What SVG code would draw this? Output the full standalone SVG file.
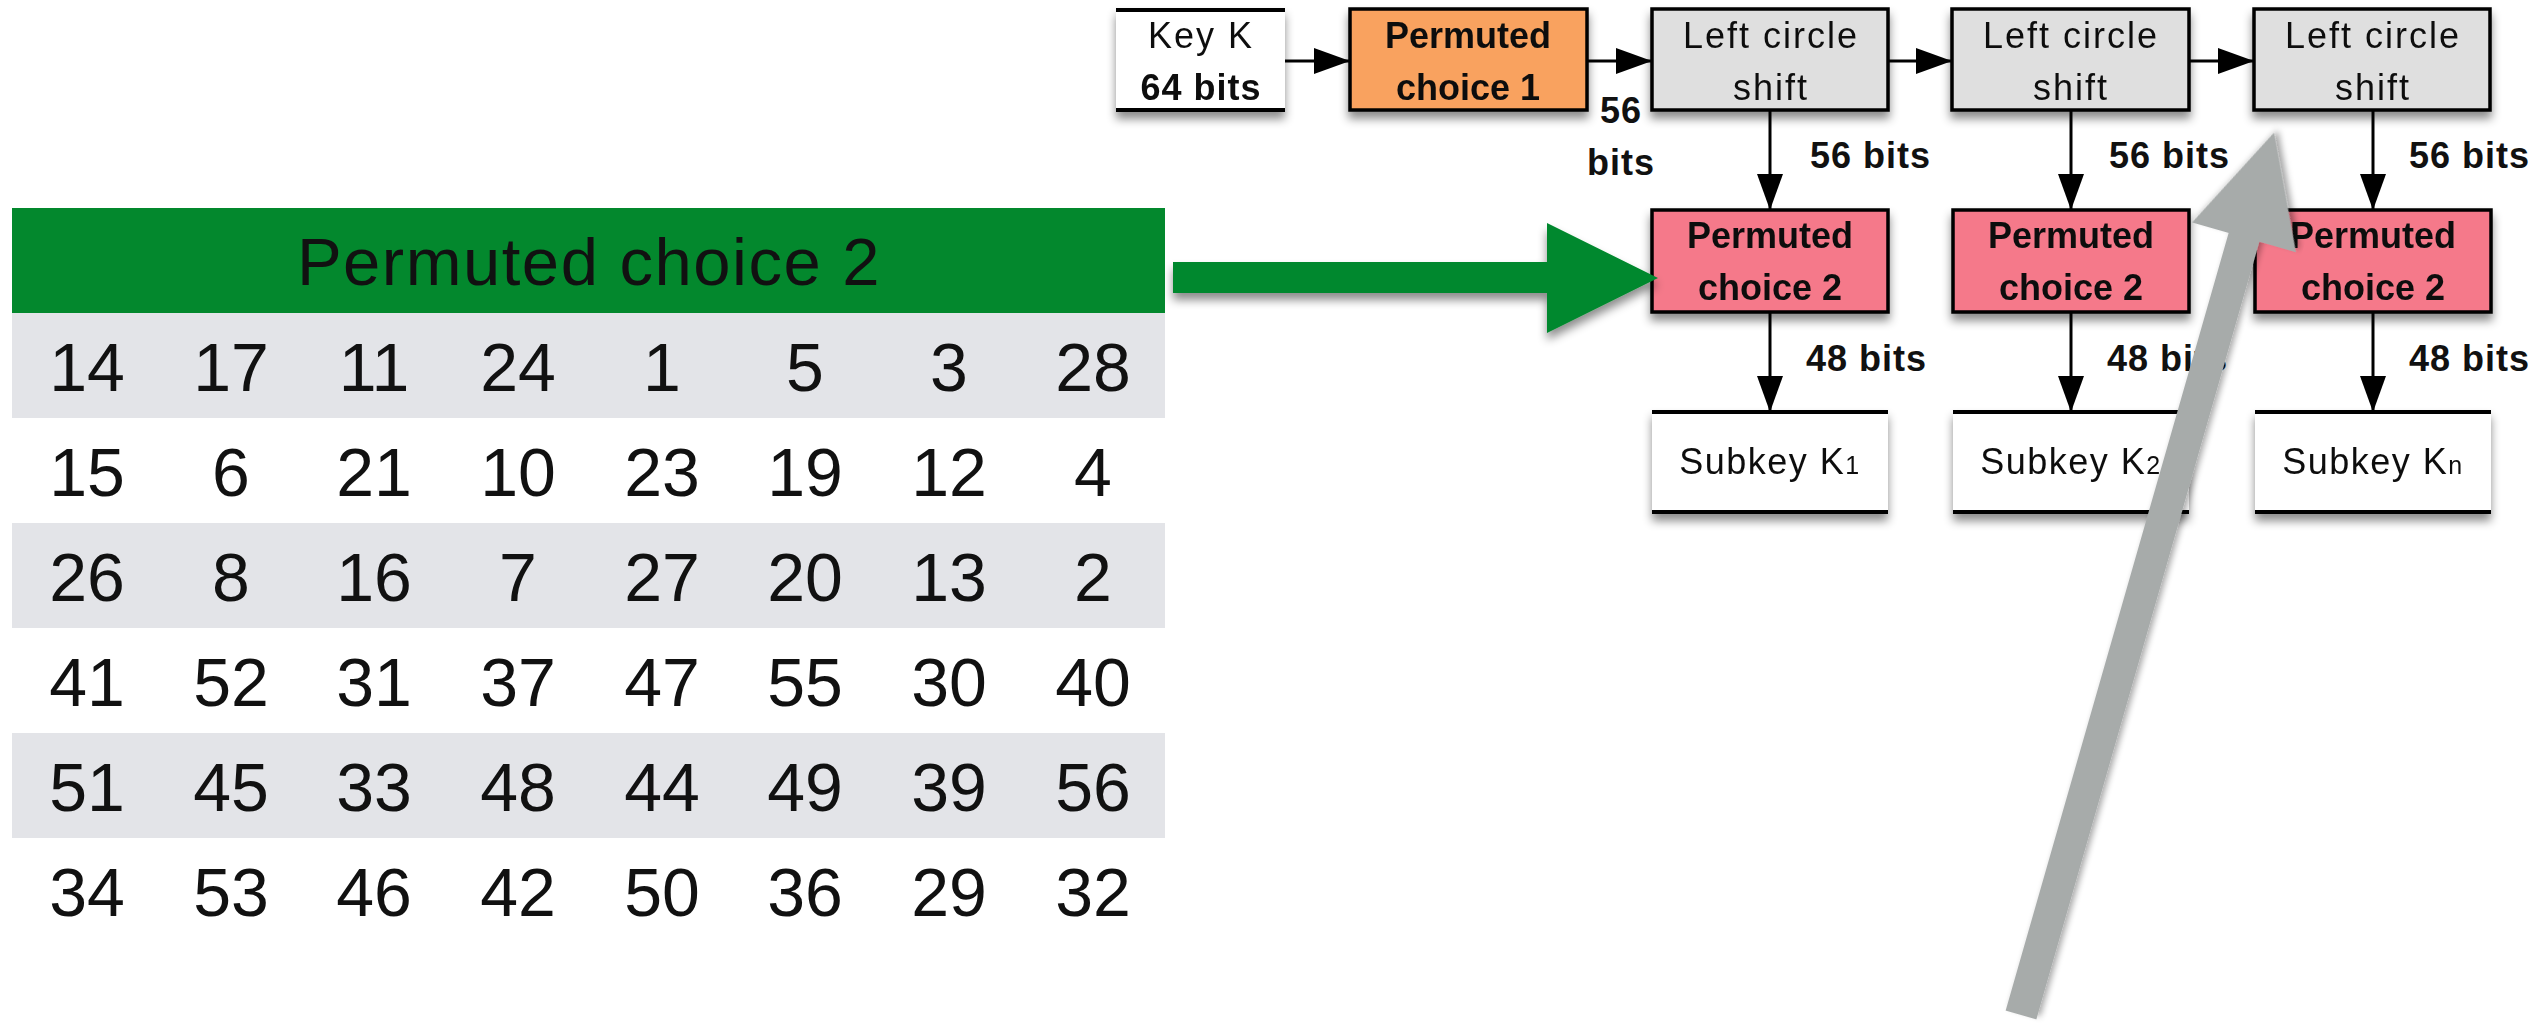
<svg xmlns="http://www.w3.org/2000/svg" width="2539" height="1025" viewBox="0 0 2539 1025">
  <style>
    text { font-family: "Liberation Sans", Arial, sans-serif; fill: #111; }
    .reg { font-size: 36px; letter-spacing: 2px; text-anchor: middle; }
    .bold { font-size: 36px; font-weight: bold; text-anchor: middle; }
    .bits { font-size: 36px; font-weight: bold; letter-spacing: 1px; }
    .sub { font-size: 36px; letter-spacing: 1.5px; text-anchor: middle; }
    .box { stroke: #000; stroke-width: 3.5; }
    .pc1 { fill: #F9A25E; }
    .pc2 { fill: #F5798A; }
    .lcs { fill: #DFDFDF; }
    .rule { stroke: #000; stroke-width: 4; }
    .wire { stroke: #000; stroke-width: 3; fill: none; marker-end: url(#head); }
    .hdr { font-size: 67px; letter-spacing: 1.5px; text-anchor: middle; }
    .num { font-size: 68px; text-anchor: middle; }
    .band { fill: #E3E4E8; }
  </style>
  <defs>
    <marker id="head" markerUnits="userSpaceOnUse" markerWidth="36" markerHeight="26" refX="36" refY="13" orient="auto">
      <path d="M0,0 L36,13 L0,26 Z" fill="#000"/>
    </marker>
    <filter id="shadow" x="-10%" y="-20%" width="120%" height="160%">
      <feDropShadow dx="0" dy="7" stdDeviation="5" flood-color="#000" flood-opacity="0.45"/>
    </filter>
    <filter id="soft" x="-20%" y="-5%" width="140%" height="110%">
      <feDropShadow dx="4" dy="3" stdDeviation="3" flood-color="#000" flood-opacity="0.35"/>
    </filter>
  </defs>

  <!-- Permuted choice 2 table -->
  <g id="pc2-table">
    <rect x="12" y="208" width="1153" height="105" fill="#03882D"/>
    <text class="hdr" x="589" y="285">Permuted choice 2</text>
    <rect class="band" x="12" y="313" width="1153" height="105"/>
    <rect class="band" x="12" y="523" width="1153" height="105"/>
    <rect class="band" x="12" y="733" width="1153" height="105"/>
    <text class="num" y="391"><tspan x="87">14</tspan><tspan x="231">17</tspan><tspan x="374">11</tspan><tspan x="518">24</tspan><tspan x="662">1</tspan><tspan x="805">5</tspan><tspan x="949">3</tspan><tspan x="1093">28</tspan></text>
    <text class="num" y="496"><tspan x="87">15</tspan><tspan x="231">6</tspan><tspan x="374">21</tspan><tspan x="518">10</tspan><tspan x="662">23</tspan><tspan x="805">19</tspan><tspan x="949">12</tspan><tspan x="1093">4</tspan></text>
    <text class="num" y="601"><tspan x="87">26</tspan><tspan x="231">8</tspan><tspan x="374">16</tspan><tspan x="518">7</tspan><tspan x="662">27</tspan><tspan x="805">20</tspan><tspan x="949">13</tspan><tspan x="1093">2</tspan></text>
    <text class="num" y="706"><tspan x="87">41</tspan><tspan x="231">52</tspan><tspan x="374">31</tspan><tspan x="518">37</tspan><tspan x="662">47</tspan><tspan x="805">55</tspan><tspan x="949">30</tspan><tspan x="1093">40</tspan></text>
    <text class="num" y="811"><tspan x="87">51</tspan><tspan x="231">45</tspan><tspan x="374">33</tspan><tspan x="518">48</tspan><tspan x="662">44</tspan><tspan x="805">49</tspan><tspan x="949">39</tspan><tspan x="1093">56</tspan></text>
    <text class="num" y="916"><tspan x="87">34</tspan><tspan x="231">53</tspan><tspan x="374">46</tspan><tspan x="518">42</tspan><tspan x="662">50</tspan><tspan x="805">36</tspan><tspan x="949">29</tspan><tspan x="1093">32</tspan></text>
  </g>

  <!-- key schedule nodes -->
  <g id="key-k" filter="url(#shadow)">
    <rect x="1116" y="10" width="169" height="100" fill="#fff"/>
    <line class="rule" x1="1116" y1="10" x2="1285" y2="10"/>
    <line class="rule" x1="1116" y1="110" x2="1285" y2="110"/>
    <text class="reg" x="1201" y="48">Key K</text>
    <text class="bits" x="1201" y="100" text-anchor="middle">64 bits</text>
  </g>
  <g id="pc1" filter="url(#shadow)">
    <rect class="box pc1" x="1350" y="9" width="237" height="101"/>
    <text class="bold" x="1468" y="48">Permuted</text>
    <text class="bold" x="1468" y="100">choice 1</text>
  </g>
  <g id="shift-1" filter="url(#shadow)">
    <rect class="box lcs" x="1652" y="9" width="236" height="101"/>
    <text class="reg" x="1771" y="48">Left circle</text>
    <text class="reg" x="1771" y="100">shift</text>
  </g>
  <g id="shift-2" filter="url(#shadow)">
    <rect class="box lcs" x="1952" y="9" width="237" height="101"/>
    <text class="reg" x="2071" y="48">Left circle</text>
    <text class="reg" x="2071" y="100">shift</text>
  </g>
  <g id="shift-n" filter="url(#shadow)">
    <rect class="box lcs" x="2254" y="9" width="236" height="101"/>
    <text class="reg" x="2373" y="48">Left circle</text>
    <text class="reg" x="2373" y="100">shift</text>
  </g>
  <g id="pc2-1" filter="url(#shadow)">
    <rect class="box pc2" x="1652" y="210" width="236" height="102"/>
    <text class="bold" x="1770" y="248">Permuted</text>
    <text class="bold" x="1770" y="300">choice 2</text>
  </g>
  <g id="pc2-2" filter="url(#shadow)">
    <rect class="box pc2" x="1953" y="210" width="236" height="102"/>
    <text class="bold" x="2071" y="248">Permuted</text>
    <text class="bold" x="2071" y="300">choice 2</text>
  </g>
  <g id="pc2-n" filter="url(#shadow)">
    <rect class="box pc2" x="2255" y="210" width="236" height="102"/>
    <text class="bold" x="2373" y="248">Permuted</text>
    <text class="bold" x="2373" y="300">choice 2</text>
  </g>
  <g id="subkey-1" filter="url(#shadow)">
    <rect x="1652" y="412" width="236" height="100" fill="#fff"/>
    <line class="rule" x1="1652" y1="412" x2="1888" y2="412"/>
    <line class="rule" x1="1652" y1="512" x2="1888" y2="512"/>
    <text class="sub" x="1770" y="474">Subkey K<tspan font-size="25">1</tspan></text>
  </g>
  <g id="subkey-2" filter="url(#shadow)">
    <rect x="1953" y="412" width="236" height="100" fill="#fff"/>
    <line class="rule" x1="1953" y1="412" x2="2189" y2="412"/>
    <line class="rule" x1="1953" y1="512" x2="2189" y2="512"/>
    <text class="sub" x="2071" y="474">Subkey K<tspan font-size="25">2</tspan></text>
  </g>
  <g id="subkey-n" filter="url(#shadow)">
    <rect x="2255" y="412" width="236" height="100" fill="#fff"/>
    <line class="rule" x1="2255" y1="412" x2="2491" y2="412"/>
    <line class="rule" x1="2255" y1="512" x2="2491" y2="512"/>
    <text class="sub" x="2373" y="474">Subkey K<tspan font-size="25">n</tspan></text>
  </g>

  <!-- connectors and their bit-width labels -->
  <g id="connectors">
    <line class="wire" x1="1285" y1="61" x2="1350" y2="61"/>
    <line class="wire" x1="1587" y1="61" x2="1652" y2="61"/>
    <line class="wire" x1="1888" y1="61" x2="1952" y2="61"/>
    <line class="wire" x1="2189" y1="61" x2="2254" y2="61"/>
    <line class="wire" x1="1770" y1="110" x2="1770" y2="210"/>
    <line class="wire" x1="2071" y1="110" x2="2071" y2="210"/>
    <line class="wire" x1="2373" y1="110" x2="2373" y2="210"/>
    <line class="wire" x1="1770" y1="312" x2="1770" y2="412"/>
    <line class="wire" x1="2071" y1="312" x2="2071" y2="412"/>
    <line class="wire" x1="2373" y1="312" x2="2373" y2="412"/>
    <text class="bits" x="1621" y="123" text-anchor="middle">56</text>
    <text class="bits" x="1621" y="175" text-anchor="middle">bits</text>
    <text class="bits" x="1810" y="168">56 bits</text>
    <text class="bits" x="2109" y="168">56 bits</text>
    <text class="bits" x="2409" y="168">56 bits</text>
    <text class="bits" x="1806" y="371">48 bits</text>
    <text class="bits" x="2107" y="371">48 bits</text>
    <text class="bits" x="2409" y="371">48 bits</text>
  </g>

  <!-- pointer arrows -->
  <g id="callouts">
    <path d="M1173,262 H1547 V223 L1658,278 L1547,333 V293 H1173 Z" fill="#03882D" filter="url(#shadow)"/>
    <g transform="translate(2021,1015) rotate(-74.0)">
      <path d="M0,-16 H809 V-54 L918,0 L809,54 V16 H0 Z" fill="#A7ABAA" filter="url(#soft)"/>
    </g>
  </g>
</svg>
